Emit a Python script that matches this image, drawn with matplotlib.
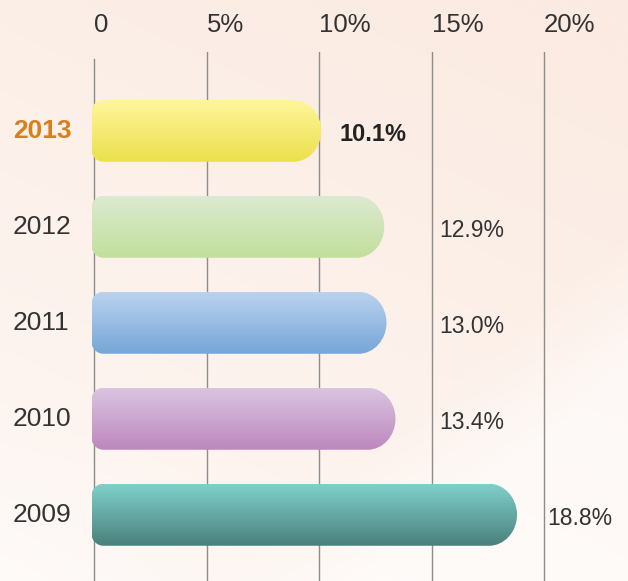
import numpy as np
import matplotlib
matplotlib.use("Agg")
import matplotlib.pyplot as plt
from matplotlib.path import Path
from matplotlib.patches import PathPatch
from matplotlib.colors import LinearSegmentedColormap
import matplotlib.transforms as mtransforms

# data
years = ["2013", "2012", "2011", "2010", "2009"]
values = [10.1, 12.9, 13.0, 13.4, 18.8]
value_labels = ["10.1%", "12.9%", "13.0%", "13.4%", "18.8%"]
tick_values = [0, 5, 10, 15, 20]
tick_labels = ["0", "5%", "10%", "15%", "20%"]

# gradient colours (top, bottom)
bar_colors = [
    ("#fef69c", "#ece04c"),
    ("#dcead0", "#c2df9c"),
    ("#bad2ee", "#76a6d8"),
    ("#dac4e0", "#bd88bd"),
    ("#7fd0ca", "#4a807c"),
]

plt.rcParams["font.family"] = ["Liberation Sans", "DejaVu Sans"]

W, H = 628, 581
fig = plt.figure(figsize=(W / 100, H / 100), dpi=100)

# background: faint peach wash, whiter toward the bottom and bottom-right
bg = fig.add_axes([0, 0, 1, 1], zorder=-10)
gx, gy = np.meshgrid(np.linspace(0, 1, 300), np.linspace(1, 0, 300))
t = np.clip(0.3 + 0.5 * gy + 0.25 * gx, 0, 1)
d = gx - gy * 1.1          # diagonal whitening at lower right
t = t * (1 - 0.6 * np.clip((d - 0.35) / 0.25, 0, 1))
t = t * (1 - 0.35 * np.clip((0.25 - gy) / 0.25, 0, 1) * np.clip((0.4 - gx) / 0.4, 0, 1))
peach = LinearSegmentedColormap.from_list("bg", ["#ffffff", "#fdf4ef", "#fbebe2"])
bg.imshow(t, cmap=peach, extent=[0, 1, 0, 1], aspect="auto", vmin=0, vmax=1,
          interpolation="bilinear")
bg.axis("off")

zero_px, top_px, pad_px = 94, 52, 10
unit_x = 22.5   # px per 1%
unit_y = 96.0   # px per category
ax = fig.add_axes([(zero_px - pad_px) / W, 0, (W - zero_px + pad_px) / W, 1 - top_px / H])
ax.patch.set_alpha(0)
ax.set_xlim(-pad_px / unit_x, (W - zero_px) / unit_x)
ypos = np.arange(len(years))[::-1]
ax.set_ylim(-0.69, -0.69 + (H - top_px) / unit_y)

for s in ax.spines.values():
    s.set_visible(False)
ax.set_yticks([])
ax.xaxis.tick_top()
ax.set_xticks(tick_values)
ax.set_xticklabels(tick_labels, fontsize=18.5, color="#333333", ha="left")
ax.tick_params(axis="x", length=0, pad=11)

for v in tick_values:
    ax.axvline(v, ymin=0, ymax=0.987 if v == 0 else 1.0, color="#8c8c8c", lw=1.0, zorder=1)

fig.canvas.draw()
sx = ax.transData.transform((1, 0))[0] - ax.transData.transform((0, 0))[0]
sy = ax.transData.transform((0, 1))[1] - ax.transData.transform((0, 0))[1]

K = 0.5523


def bar_path(x0, x1, yc, h, rl_px, rrx_px, rry_px):
    rlx, rly = rl_px / sx, rl_px / sy
    rrx, rry = rrx_px / sx, min(rry_px / sy, h / 2)
    yb, yt = yc - h / 2, yc + h / 2
    v = [(x0 + rlx, yb), (x1 - rrx, yb),
         (x1 - rrx + K * rrx, yb), (x1, yb + rry - K * rry), (x1, yb + rry),
         (x1, yt - rry),
         (x1, yt - rry + K * rry), (x1 - rrx + K * rrx, yt), (x1 - rrx, yt),
         (x0 + rlx, yt),
         (x0 + rlx - K * rlx, yt), (x0, yt - rly + K * rly), (x0, yt - rly),
         (x0, yb + rly),
         (x0, yb + rly - K * rly), (x0 + rlx - K * rlx, yb), (x0 + rlx, yb),
         (x0 + rlx, yb)]
    c = [Path.MOVETO, Path.LINETO,
         Path.CURVE4, Path.CURVE4, Path.CURVE4,
         Path.LINETO,
         Path.CURVE4, Path.CURVE4, Path.CURVE4,
         Path.LINETO,
         Path.CURVE4, Path.CURVE4, Path.CURVE4,
         Path.LINETO,
         Path.CURVE4, Path.CURVE4, Path.CURVE4,
         Path.CLOSEPOLY]
    return Path(v, c)


bar_h = 62 / unit_y
x_start = -2.5 / unit_x
grad = np.linspace(0, 1, 100).reshape(-1, 1)
for i, (yr, val) in enumerate(zip(years, values)):
    y = ypos[i]
    path = bar_path(x_start, val, y, bar_h, 12, 28, 31)
    patch = PathPatch(path, facecolor="none", edgecolor="none")
    ax.add_patch(patch)
    cm = LinearSegmentedColormap.from_list("b%d" % i, [bar_colors[i][0], bar_colors[i][1]])
    im = ax.imshow(grad, cmap=cm, extent=[x_start, val, y - bar_h / 2, y + bar_h / 2],
                   aspect="auto", origin="upper", zorder=3, interpolation="bilinear")
    im.set_clip_path(patch)

# value labels
label_x = [10.9, 15.35, 15.35, 15.35, 20.15]
for i, lab in enumerate(value_labels):
    bold = i == 0
    ax.text(label_x[i], ypos[i] - 0.04, lab, fontsize=17 if bold else 16.5,
            fontweight="bold" if bold else "normal", color="#222222" if bold else "#333333",
            ha="left", va="center", zorder=4)

# year labels
trans = mtransforms.blended_transform_factory(fig.transFigure, ax.transData)
for i, yr in enumerate(years):
    bold = i == 0
    ax.text(13 / W, ypos[i], yr, transform=trans, fontsize=19,
            fontweight="bold" if bold else "normal",
            color="#d4801c" if bold else "#333333", ha="left", va="center")

fig.savefig("out.png", dpi=100)
